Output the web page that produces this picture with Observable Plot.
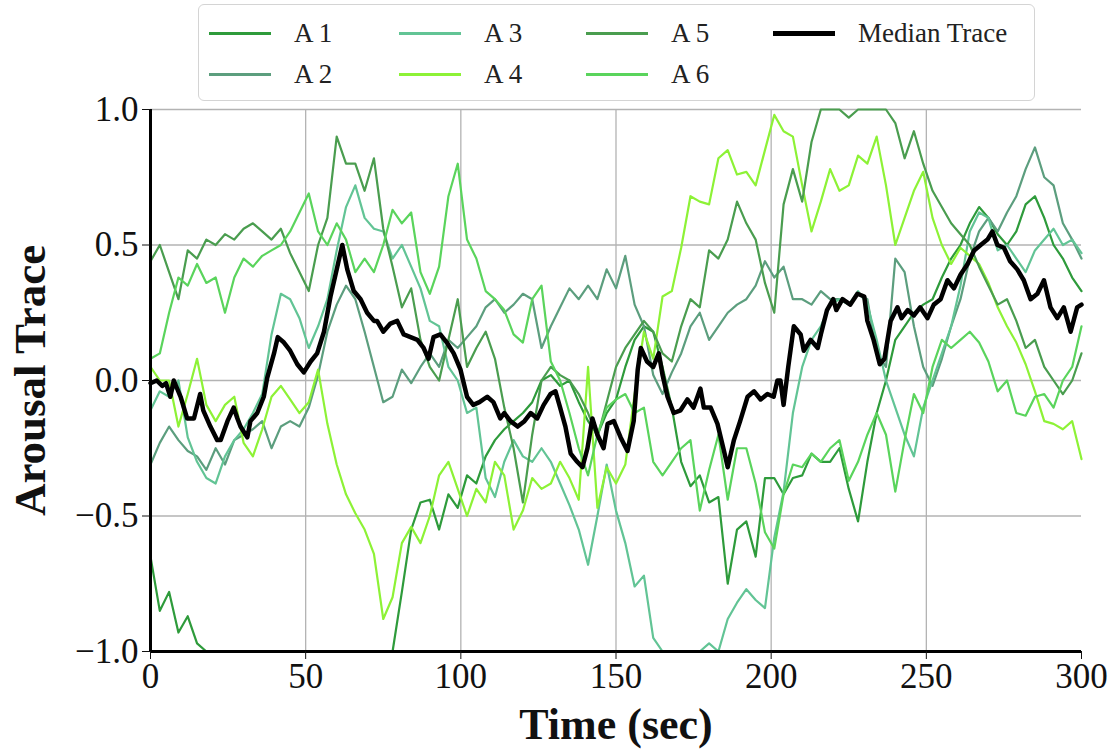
<!DOCTYPE html>
<html><head><meta charset="utf-8">
<script src="https://cdn.jsdelivr.net/npm/d3@7"></script>
<script src="https://cdn.jsdelivr.net/npm/@observablehq/plot@0.6"></script>
<style>
body{margin:0;background:#fff;}
#wrap{width:1117px;height:749px;font-family:"Liberation Serif",serif;background:#fff;}
#legendArea{position:relative;width:1117px;height:105px;}
#legend{position:absolute;left:198px;top:4px;width:837px;height:97px;border:1.5px solid #d4d4d4;border-radius:6px;box-sizing:border-box;background:#fff;}
.item{position:absolute;height:30px;display:flex;align-items:center;font-size:27px;color:#222;white-space:nowrap;}
.swatch{width:62px;height:0;margin-right:23px;}
</style></head>
<body><div id="wrap"><div id="legendArea"><div id="legend"></div></div><div id="chart"></div></div>
<script>
const names = ["A 1","A 2","A 3","A 4","A 5","A 6"];
const colors = ["#2e9b3b","#5c9e7e","#62c495","#8df236","#4a9d4f","#5ad45c"];
const times = d3.range(0, 301, 3);
const xTicks = [0,50,100,150,200,250,300];
const yTicks = [-1,-0.5,0,0.5,1];

const a1 = [-0.65,-0.85,-0.78,-0.93,-0.87,-0.97,-1,-1,-1,-1,
 -1,-1,-1,-1,-1,-1,-1,-1,-1,-1,
 -1,-1,-1,-1,-1,-1,-1,-0.78,-0.55,-0.45,
 -0.44,-0.55,-0.42,-0.47,-0.35,-0.38,-0.28,-0.22,-0.18,-0.15,
 -0.12,-0.08,0.0,0.02,-0.02,0.0,-0.08,-0.15,-0.2,-0.12,
 -0.07,0.05,0.15,0.2,0.18,0.05,-0.1,-0.3,-0.39,-0.35,
 -0.45,-0.43,-0.75,-0.55,-0.52,-0.65,-0.36,-0.36,-0.42,-0.36,
 -0.35,-0.27,-0.3,-0.3,-0.25,-0.4,-0.52,-0.3,-0.12,0.0,
 0.15,0.2,0.25,0.28,0.3,0.38,0.45,0.5,0.58,0.64,
 0.6,0.54,0.5,0.55,0.65,0.68,0.6,0.5,0.45,0.38,
 0.33];
const a2 = [-0.31,-0.23,-0.17,-0.22,-0.26,-0.28,-0.33,-0.25,-0.31,-0.22,
 -0.2,-0.18,-0.15,-0.25,-0.17,-0.15,-0.17,-0.1,0.02,0.18,
 0.28,0.35,0.3,0.18,0.05,-0.08,-0.06,0.04,-0.01,0.05,
 0.1,0.05,0.15,0.12,0.16,0.2,0.27,0.3,0.25,0.28,
 0.32,0.3,0.12,0.2,0.27,0.34,0.3,0.35,0.3,0.41,
 0.34,0.46,0.28,0.2,0.02,-0.05,0.03,0.1,0.2,0.25,
 0.15,0.2,0.25,0.28,0.3,0.35,0.44,0.38,0.42,0.3,
 0.3,0.28,0.33,0.3,0.3,0.28,0.32,0.3,0.1,0.05,
 0.45,0.4,0.2,0.05,-0.02,0.08,0.2,0.3,0.45,0.55,
 0.6,0.55,0.62,0.68,0.78,0.86,0.75,0.72,0.58,0.52,
 0.45];
const a3 = [-0.11,-0.04,-0.06,0.0,-0.21,-0.3,-0.36,-0.38,-0.28,-0.22,
 -0.18,-0.12,-0.05,0.17,0.32,0.3,0.23,0.12,0.2,0.3,
 0.48,0.64,0.72,0.6,0.56,0.55,0.45,0.5,0.42,0.34,
 0.22,0.2,0.05,0.0,-0.12,-0.1,-0.36,-0.43,-0.3,-0.22,
 -0.28,-0.3,-0.25,-0.3,-0.38,-0.46,-0.55,-0.68,-0.5,-0.31,
 -0.48,-0.6,-0.76,-0.72,-0.95,-1,-1,-1,-1,-1,
 -0.97,-1,-0.88,-0.82,-0.77,-0.81,-0.84,-0.58,-0.41,-0.12,
 0.05,0.15,0.2,0.28,0.3,0.28,0.33,0.28,0.15,0.0,
 -0.1,-0.2,-0.28,-0.1,0.0,0.1,0.2,0.35,0.55,0.62,
 0.6,0.48,0.5,0.45,0.4,0.48,0.52,0.56,0.5,0.52,
 0.47];
const a4 = [0.05,0.0,0.0,-0.17,-0.05,0.08,-0.09,-0.15,-0.09,-0.06,
 -0.23,-0.28,-0.18,-0.06,-0.02,-0.07,-0.12,-0.08,0.04,-0.16,
 -0.31,-0.42,-0.49,-0.55,-0.64,-0.88,-0.8,-0.6,-0.54,-0.6,
 -0.5,-0.35,-0.3,-0.4,-0.5,-0.4,-0.45,-0.3,-0.35,-0.55,
 -0.48,-0.36,-0.4,-0.38,-0.3,-0.36,-0.44,0.05,-0.47,-0.32,
 -0.38,-0.31,-0.05,0.18,0.08,0.31,0.33,0.49,0.68,0.66,
 0.65,0.82,0.85,0.76,0.77,0.72,0.85,0.98,0.92,0.9,
 0.72,0.55,0.66,0.78,0.7,0.72,0.83,0.8,0.9,0.72,
 0.5,0.6,0.7,0.77,0.6,0.5,0.43,0.49,0.46,0.43,
 0.36,0.27,0.2,0.14,0.06,-0.04,-0.15,-0.16,-0.18,-0.15,
 -0.29];
const a5 = [0.44,0.5,0.4,0.3,0.48,0.45,0.52,0.5,0.54,0.52,
 0.56,0.58,0.55,0.52,0.56,0.47,0.4,0.33,0.5,0.6,
 0.9,0.8,0.8,0.7,0.82,0.56,0.42,0.27,0.34,0.15,
 0.05,0.0,0.15,0.3,0.05,0.12,0.18,0.08,-0.1,-0.25,
 -0.45,-0.2,0.0,0.05,0.02,0.0,-0.05,-0.12,-0.21,-0.08,
 0.05,0.12,0.17,0.22,0.18,0.1,0.07,0.2,0.3,0.27,
 0.48,0.45,0.52,0.66,0.58,0.52,0.36,0.25,0.65,0.78,
 0.66,0.88,1.0,1.0,1.0,0.97,1.0,1.0,1.0,1.0,
 0.95,0.82,0.92,0.8,0.7,0.64,0.58,0.54,0.5,0.42,
 0.35,0.28,0.3,0.22,0.12,0.15,0.05,0.0,-0.05,0.0,
 0.1];
const a6 = [0.08,0.1,0.25,0.38,0.35,0.43,0.36,0.38,0.25,0.38,
 0.45,0.42,0.46,0.48,0.5,0.55,0.62,0.69,0.55,0.5,
 0.58,0.52,0.4,0.45,0.4,0.5,0.63,0.58,0.62,0.4,
 0.32,0.42,0.68,0.8,0.52,0.45,0.33,0.3,0.26,0.17,
 0.14,0.3,0.35,0.07,0.0,-0.12,-0.25,-0.35,-0.2,-0.1,
 -0.07,-0.05,-0.12,-0.1,-0.3,-0.35,-0.3,-0.25,-0.22,-0.48,
 -0.33,-0.2,-0.44,-0.25,-0.25,-0.38,-0.56,-0.62,-0.42,-0.31,
 -0.32,-0.27,-0.3,-0.25,-0.22,-0.37,-0.3,-0.2,-0.12,-0.2,
 -0.41,-0.22,-0.05,-0.12,0.05,0.15,0.12,0.15,0.18,0.14,
 0.07,-0.04,0.0,-0.12,-0.13,-0.06,-0.05,-0.1,0.0,0.05,
 0.2];

const medianTrace = [[0,-0.01],[2,0.0],[3.8,-0.02],[5,-0.01],[6.4,-0.06],[7.5,0.0],[9.7,-0.06],[11.8,-0.14],[14,-0.14],[16,-0.05],
 [17,-0.11],[19.3,-0.17],[21.5,-0.22],[22.6,-0.22],[24.8,-0.15],[26.8,-0.1],[28,-0.14],[29,-0.17],[31.2,-0.21],[32.2,-0.15],
 [34.4,-0.12],[36.5,-0.06],[37.6,0.01],[39.8,0.1],[41,0.16],[43,0.14],[45,0.11],[47.3,0.06],[49.4,0.03],[51.6,0.07],
 [53.7,0.1],[55.9,0.18],[58,0.31],[60.2,0.42],[61.8,0.5],[63.4,0.41],[65.5,0.33],[67.7,0.3],[69.8,0.25],[72,0.22],
 [73,0.22],[75,0.18],[77.3,0.21],[79.5,0.22],[81.6,0.17],[83.8,0.16],[86,0.15],[88,0.12],[89.6,0.08],[91.2,0.16],
 [93.4,0.17],[95.5,0.14],[97.7,0.1],[99.9,0.04],[102,-0.06],[104,-0.09],[106,-0.08],[108.5,-0.06],[110.5,-0.08],[112.7,-0.14],
 [114,-0.12],[116,-0.15],[118.3,-0.17],[120.5,-0.15],[122.5,-0.12],[124.6,-0.14],[126.7,-0.09],[128.9,-0.05],[130.5,-0.04],[132,-0.1],
 [133.7,-0.17],[135.4,-0.27],[137.5,-0.3],[139.2,-0.32],[140.8,-0.25],[142.4,-0.14],[144,-0.2],[146,-0.25],[147.3,-0.16],[149.3,-0.15],
 [151.5,-0.21],[153.7,-0.26],[155.7,-0.15],[157,0.04],[158,0.12],[160,0.07],[162,0.05],[163.8,0.1],[165,0.02],[166.6,-0.06],
 [168.6,-0.12],[170.8,-0.11],[173,-0.07],[175,-0.1],[177.2,-0.03],[178.3,-0.1],[180.5,-0.1],[182.7,-0.16],[184.8,-0.26],[186,-0.32],
 [188,-0.22],[190,-0.15],[192.4,-0.06],[194.5,-0.04],[196.6,-0.07],[198.8,-0.05],[200.8,-0.06],[202,0.0],[203,0.0],[204,-0.09],
 [205.5,0.05],[207.3,0.2],[209.5,0.17],[210.5,0.11],[212.7,0.15],[215,0.12],[216,0.17],[218,0.26],[220,0.3],[221,0.26],
 [223,0.3],[225.5,0.28],[227.8,0.32],[230,0.31],[231,0.22],[233,0.15],[235,0.06],[236.5,0.08],[238.5,0.22],[240.7,0.27],
 [242,0.23],[244,0.26],[246,0.24],[248,0.27],[250.4,0.23],[252.4,0.28],[254.6,0.3],[256.8,0.37],[258.9,0.34],[261,0.39],
 [263.3,0.43],[265.4,0.48],[267.5,0.5],[269.7,0.52],[271.3,0.55],[272.9,0.5],[275,0.49],[277,0.44],[279.3,0.41],[281.4,0.37],
 [283.6,0.3],[285.8,0.32],[287.9,0.37],[290,0.27],[292.2,0.23],[294.3,0.27],[296.5,0.18],[298.6,0.27],[300,0.28]];

const series = [a1,a2,a3,a4,a5,a6];
const rows = [];
series.forEach((vals, i) => vals.forEach((v, j) => { if (j < times.length) rows.push({t: times[j], v, s: names[i]}); }));

// legend
const legend = document.getElementById("legend");
const legendItems = names.map((n,i)=>({label:n, color:colors[i], w:3, col: Math.floor(i/2), row: i%2}));
legendItems.push({label:"Median Trace", color:"#000", w:5, col:3, row:0});
const colX = [10, 200, 387, 574];
const rowY = [13, 54];
legendItems.forEach(it => {
  const d = document.createElement("div");
  d.className = "item";
  d.style.left = colX[it.col] + "px";
  d.style.top = rowY[it.row] + "px";
  const sw = document.createElement("div");
  sw.className = "swatch";
  sw.style.borderTop = it.w + "px solid " + it.color;
  d.appendChild(sw);
  const tx = document.createElement("span");
  tx.textContent = it.label;
  d.appendChild(tx);
  legend.appendChild(d);
});

const chart = Plot.plot({
  width: 1117, height: 644,
  marginLeft: 150, marginRight: 36, marginTop: 4, marginBottom: 98,
  style: {fontFamily: '"Liberation Serif", serif', fontSize: "35px", color: "#111", background: "#fff", overflow: "visible"},
  x: {domain: [0, 300]},
  y: {domain: [-1, 1]},
  color: {domain: names, range: colors},
  marks: [
    Plot.gridX([50,100,150,200,250], {stroke: "#b3b3b3", strokeOpacity: 1, strokeWidth: 1.3}),
    Plot.gridY([-0.5,0,0.5,1], {stroke: "#b3b3b3", strokeOpacity: 1, strokeWidth: 1.3}),
    Plot.line(rows, {x: "t", y: "v", z: "s", stroke: "s", strokeWidth: 2.2}),
    Plot.line(medianTrace, {x: d => d[0], y: d => d[1], stroke: "#000", strokeWidth: 4.5, strokeLinejoin: "round"}),
    Plot.ruleX([0], {stroke: "#000", strokeWidth: 3}),
    Plot.ruleY([-1], {stroke: "#000", strokeWidth: 3}),
    Plot.axisX({ticks: xTicks, tickSize: 8, tickPadding: 4, tickFormat: d => String(d), label: null, fontSize: 35}),
    Plot.axisY({ticks: yTicks, tickSize: 8, tickPadding: 4, tickFormat: d => (d < 0 ? "\u2212" : "") + Math.abs(d).toFixed(1), label: null, fontSize: 35}),
    Plot.text(["Time (sec)"], {frameAnchor: "bottom", lineAnchor: "middle", textAnchor: "middle", dy: 73, fontWeight: "bold", fontSize: 44, fill: "#111"}),
    Plot.text(["Arousal Trace"], {frameAnchor: "left", lineAnchor: "middle", textAnchor: "middle", dx: -120, rotate: -90, fontWeight: "bold", fontSize: 45, fill: "#111"})
  ]
});
document.getElementById("chart").appendChild(chart);
</script>
</body></html>
